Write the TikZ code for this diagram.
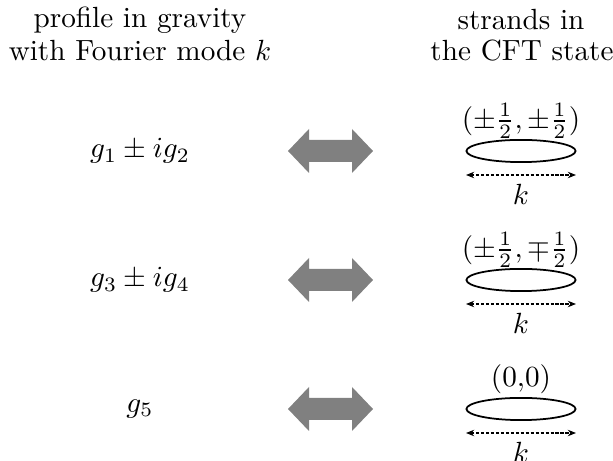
\documentclass[tikz,border=0pt]{standalone}
\usetikzlibrary{arrows.meta,shapes.geometric}
\begin{document}
\begin{tikzpicture}[x=0.3425pt,y=-0.3425pt,
  hdr/.style={align=center,inner sep=0pt},
  lbl/.style={inner sep=0pt},
  strand/.style={draw=black,line width=0.6pt,ellipse,minimum width=37.4pt,minimum height=7.6pt,inner sep=0pt},
  span/.style={line width=0.35pt,dash pattern=on 1.1pt off 0.6pt,{Stealth[length=2.8pt,width=2.2pt]}-{Stealth[length=2.8pt,width=2.2pt]}},
  bigarrow/.style={fill=black!50,draw=none}]
\useasboundingbox (0,0) rectangle (613,461);
% headers
\node[hdr] (hl1) at (140,20) {profile in gravity};
\node[hdr] (hl2) at (140,51) {with Fourier mode $k$};
\node[hdr] (hr1) at (521,20) {strands in};
\node[hdr] (hr2) at (522,51) {the CFT state};
% rows
\foreach \y/\g/\q [count=\i] in {151/{g_1\pm i g_2}/{(\pm\frac{1}{2},\pm\frac{1}{2})},
                                 280/{g_3\pm i g_4}/{(\pm\frac{1}{2},\mp\frac{1}{2})},
                                 409/{g_5}/{(0{,}0)}}{
  \node[lbl] (g\i) at (140,\y) {$\g$};
  \coordinate (c\i) at (330,\y);
  \fill[bigarrow] (c\i) ++(-42,0) -- ++(21,-22) -- ++(0,11) -- ++(43,0) -- ++(0,-11)
     -- ++(21,22) -- ++(-21,22) -- ++(0,-11) -- ++(-43,0) -- ++(0,11) -- cycle;
  \node[strand] (e\i) at (521,\y) {};
  \node[lbl] (q\i) at (521,\y-30) {$\q$};
  \coordinate (al\i) at (466,\y+24);
  \coordinate (ar\i) at (576,\y+24);
  \draw[span] (al\i) -- (ar\i);
  \node[lbl] (k\i) at (521,\y+43) {$k$};
}
\end{tikzpicture}
\end{document}
